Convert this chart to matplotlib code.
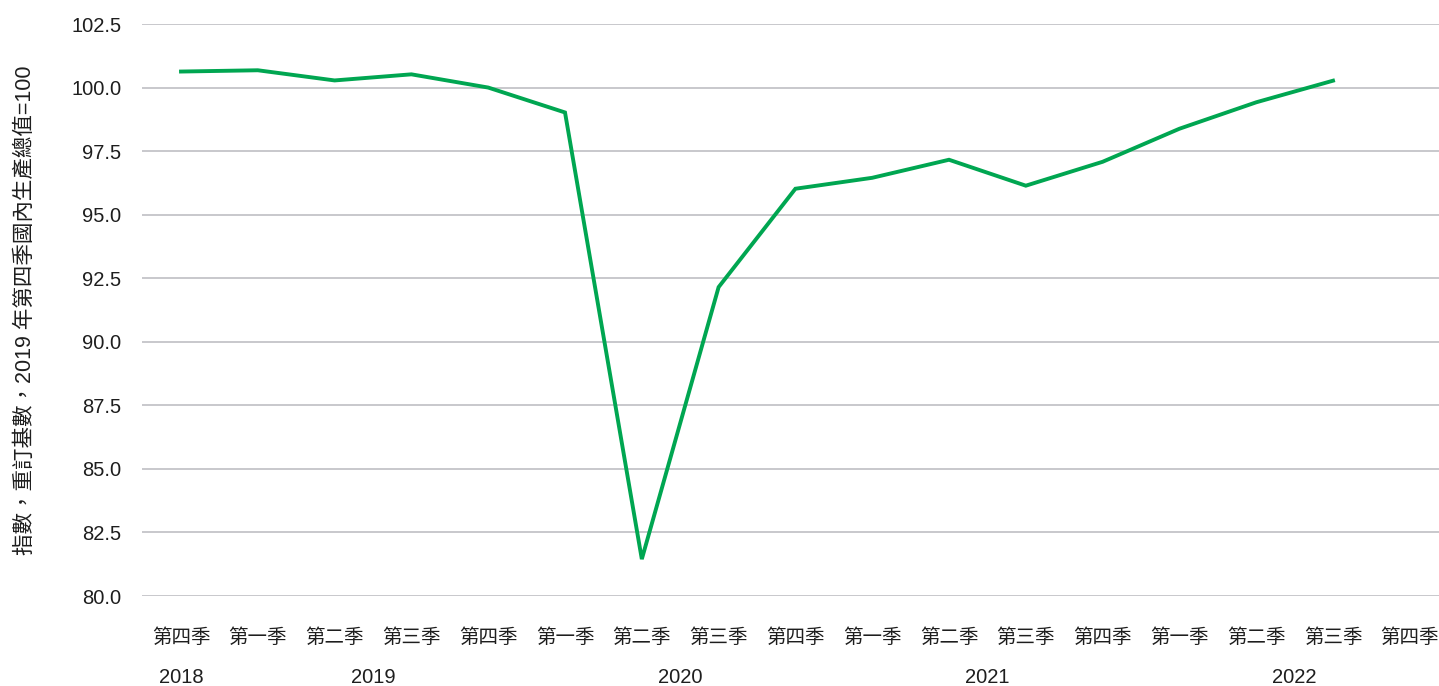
import matplotlib
matplotlib.use("Agg")
import matplotlib.pyplot as plt

plt.rcParams['font.family'] = ['Liberation Sans', 'Noto Sans CJK TC']

quarters = ["第四季", "第一季", "第二季", "第三季", "第四季",
            "第一季", "第二季", "第三季", "第四季",
            "第一季", "第二季", "第三季", "第四季",
            "第一季", "第二季", "第三季", "第四季"]
years = ["2018", "2019", "2019", "2019", "2019",
         "2020", "2020", "2020", "2020",
         "2021", "2021", "2021", "2021",
         "2022", "2022", "2022", "2022"]
gdp_index = [100.63, 100.68, 100.28, 100.52, 100.0, 99.02, 81.45, 92.15,
             96.02, 96.45, 97.16, 96.14, 97.08, 98.38, 99.42, 100.27]
y_ticks = [80.0, 82.5, 85.0, 87.5, 90.0, 92.5, 95.0, 97.5, 100.0, 102.5]
ylabel = "指數，重訂基數，2019 年第四季國內生產總值=100"

fig = plt.figure(figsize=(14.39, 6.86), dpi=100)
ax = fig.add_axes([142/1439, 1 - 596/686, 1 - 142/1439, (596 - 24)/686])

x = list(range(len(quarters)))
ax.plot(x[:len(gdp_index)], gdp_index, color="#00a651", lw=2.8,
        solid_joinstyle="miter", zorder=3)

ax.set_xlim(-0.508, 16.38)
ax.set_ylim(80, 102.5)
ax.set_yticks(y_ticks)
ax.set_yticklabels([f"{v:.1f}" for v in y_ticks], fontsize=14.5, color="#1e1e1e")
ax.set_xticks(x)
ax.set_xticklabels(quarters, fontsize=14, color="#1e1e1e",
                   family="Noto Sans CJK TC")
ax.tick_params(axis="both", length=0)
ax.tick_params(axis="y", pad=15)
ax.tick_params(axis="x", pad=22)
ax.grid(axis="y", color="#c4c4c8", lw=1.3)
ax.set_axisbelow(True)
for s in ax.spines.values():
    s.set_visible(False)

# year labels centred under each year's quarters
seen = []
for yr in years:
    if yr not in seen:
        seen.append(yr)
for yr in seen:
    idx = [i for i, v in enumerate(years) if v == yr]
    pos = sum(idx) / len(idx)
    ax.text(pos, -0.143, yr, transform=ax.get_xaxis_transform(),
            ha="center", va="center", fontsize=14.5, color="#1e1e1e")

fig.text(25/1439, 1 - 310/686, ylabel, rotation=90, ha="center", va="center",
         fontsize=15.5, color="#1e1e1e")

fig.savefig("out.png", dpi=100)
